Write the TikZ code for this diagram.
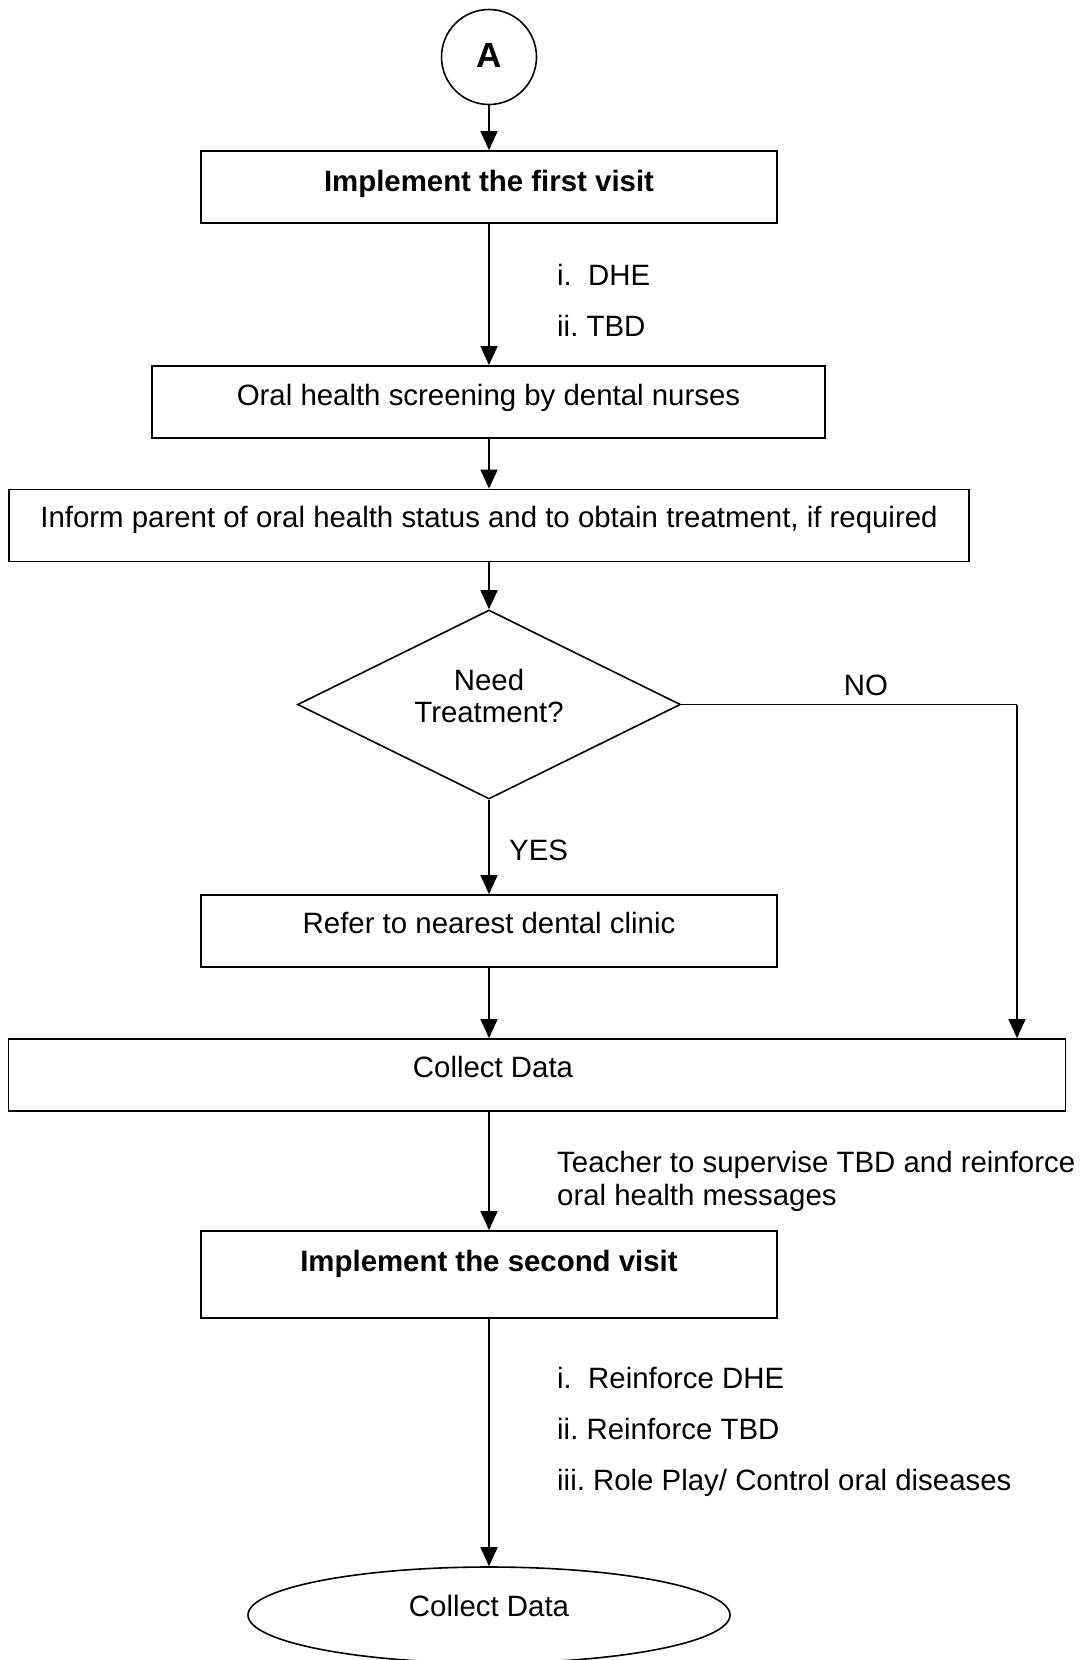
\documentclass[tikz,border=0pt]{standalone}
\usepackage{fontspec}
\setmainfont{Liberation Sans}
\usetikzlibrary{shapes.geometric,arrows.meta}
\frenchspacing
\tikzset{
  box/.style={draw, line width=1.8pt, inner sep=0pt, minimum height=72pt},
  txt/.style={anchor=base, inner sep=0pt, font=\fontsize{29.4}{33}\selectfont},
  ltxt/.style={txt, anchor=base west},
  btxt/.style={txt, font=\fontsize{29.4}{33}\selectfont\bfseries},
  arr/.style={line width=1.6pt, -{Triangle[length=19pt,width=17pt]}},
  conn/.style={line width=1.6pt},
}
\begin{document}
\begin{tikzpicture}[x=1pt,y=-1pt]
\useasboundingbox (0,0) rectangle (1089,1660);
% shapes
\node[draw, circle, line width=1.6pt, minimum size=95pt, inner sep=0pt] (A) at (489,57) {};
\node[box, minimum width=576pt] (b1) at (489,187) {};
\node[box, minimum width=673pt] (b2) at (488.5,402) {};
\node[box, minimum width=960pt] (b3) at (489,525.5) {};
\node[draw, diamond, line width=1.6pt, minimum width=383pt, minimum height=189pt, inner sep=0pt, aspect=2.03] (dia) at (489,704.5) {};
\node[box, minimum width=576pt] (b4) at (489,931) {};
\node[box, minimum width=1057pt] (b5) at (537,1075) {};
\node[box, minimum width=576pt, minimum height=87pt] (b6) at (489,1274.5) {};
\node[draw, ellipse, line width=1.6pt, minimum width=482pt, minimum height=96pt, inner sep=0pt] (ell) at (489,1615) {};
% texts
\node[txt, font=\fontsize{35}{40}\selectfont\bfseries] (tA) at (489,67) {A};
\node[btxt] (t1) at (489,191) {Implement the first visit};
\node[ltxt] (l1a) at (557,285) {i.\ \ DHE};
\node[ltxt] (l1b) at (557,336) {ii. TBD};
\node[txt] (t2) at (488.5,405) {Oral health screening by dental nurses};
\node[txt] (t3) at (489,527) {Inform parent of oral health status and to obtain treatment, if required};
\node[txt] (tneed) at (489,690) {Need};
\node[txt] (ttreat) at (489,722) {Treatment?};
\node[txt] (tno) at (866,695) {NO};
\node[ltxt] (tyes) at (509,860) {YES};
\node[txt] (t4) at (489,933) {Refer to nearest dental clinic};
\node[txt] (t5) at (493,1077) {Collect Data};
\node[ltxt] (tt1) at (557,1172) {Teacher to supervise TBD and reinforce};
\node[ltxt] (tt2) at (557,1205) {oral health messages};
\node[btxt] (t6) at (489,1271) {Implement the second visit};
\node[ltxt] (l2a) at (557,1388) {i.\ \ Reinforce DHE};
\node[ltxt] (l2b) at (557,1439) {ii. Reinforce TBD};
\node[ltxt] (l2c) at (557,1490) {iii. Role Play/ Control oral diseases};
\node[txt] (tE) at (489,1616) {Collect Data};
% connectors
\coordinate (noX) at (1017,704.5);
\draw[arr] (A.south) -- (b1.north);
\draw[arr] (b1.south) -- (b2.north -| b1.south);
\draw[arr] (b2.south -| b1.south) -- (b3.north);
\draw[arr] (b3.south) -- (dia.north);
\draw[arr] (dia.south) -- (b4.north);
\draw[conn] (dia.east) -- (noX);
\draw[arr] (noX) -- (noX |- b5.north);
\draw[arr] (b4.south) -- (b4.south |- b5.north);
\draw[arr] (b6.north |- b5.south) -- (b6.north);
\draw[arr] (b6.south) -- (ell.north);
\end{tikzpicture}
\end{document}
